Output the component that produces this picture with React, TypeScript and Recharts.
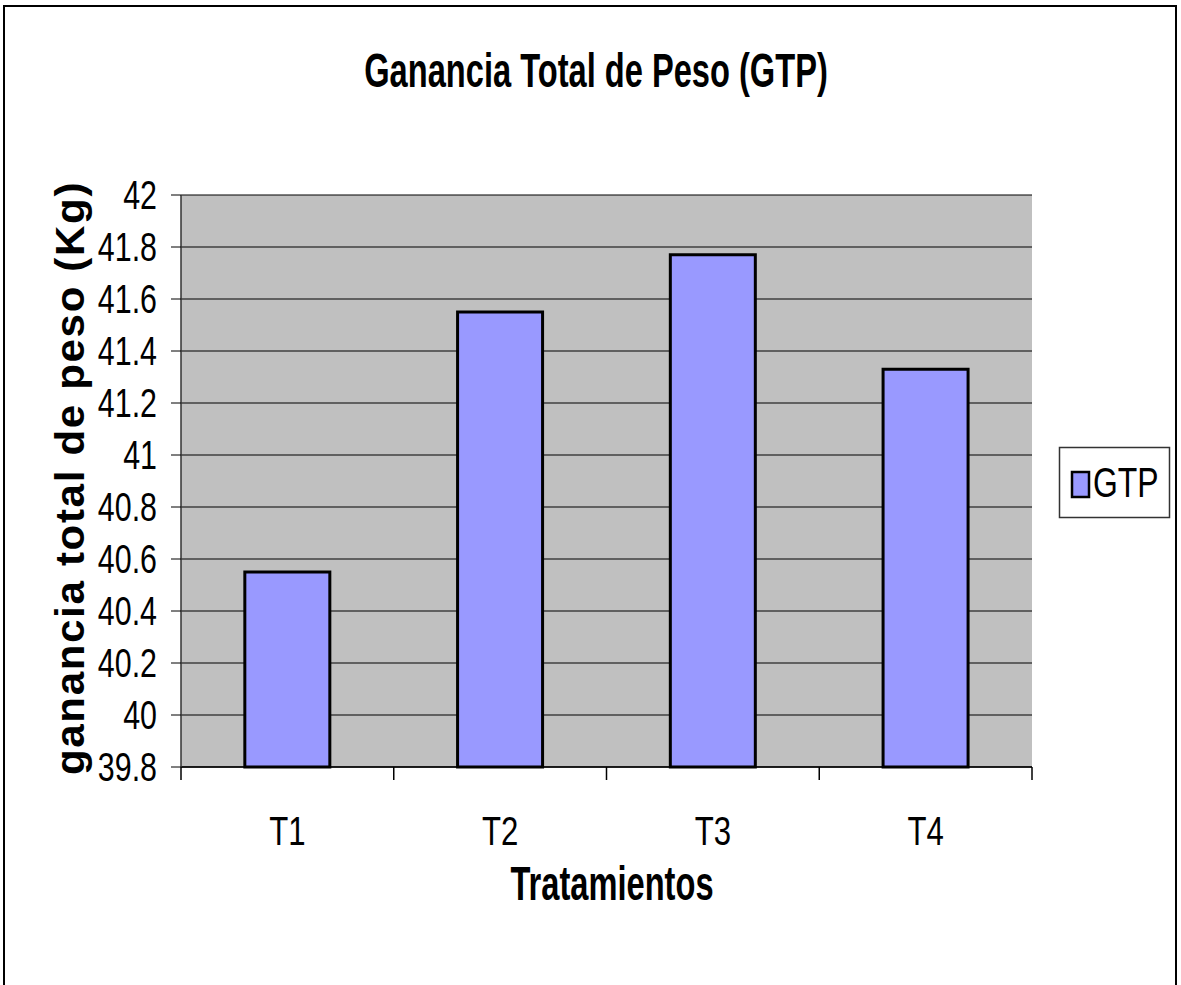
import { BarChart, Bar, XAxis, YAxis, CartesianGrid } from 'recharts';

const categories = ['T1', 'T2', 'T3', 'T4'];
const gtpValues = [40.55, 41.55, 41.77, 41.33];
const yTicks = [39.8, 40, 40.2, 40.4, 40.6, 40.8, 41, 41.2, 41.4, 41.6, 41.8, 42];
const seriesName = 'GTP';

const data = categories.map((name, i) => ({ name, GTP: gtpValues[i] }));

const W = 1181;
const H = 985;
const PLOT_LEFT = 181;
const PLOT_RIGHT = 1032;
const PLOT_TOP = 195;
const PLOT_BOTTOM = 767;
const Y_AXIS_W = 80;
const X_AXIS_H = 60;
const BAND = (PLOT_RIGHT - PLOT_LEFT) / categories.length;

const FONT = "'Liberation Sans', Arial, sans-serif";
const SQUEEZE = 0.76; // the old Excel picture is squashed sideways
const BOLD_SQUEEZE = 0.68;

// text squeezed horizontally, like the source picture
function NarrowText({ x, y, anchor = 'start', size, bold = false, squeeze = SQUEEZE, children }: any) {
  return (
    <text
      transform={`translate(${x} ${y}) scale(${squeeze} 1)`}
      textAnchor={anchor}
      fontFamily={FONT}
      fontSize={size}
      fontWeight={bold ? 'bold' : 'normal'}
      fill="#000"
    >
      {children}
    </text>
  );
}

function YTick(props: any) {
  const { x, y, payload } = props;
  return (
    <NarrowText x={x} y={y + 14} anchor="end" size={40}>
      {String(+Number(payload.value).toFixed(1))}
    </NarrowText>
  );
}

function XTick(props: any) {
  const { x, payload, index } = props;
  const axisY = PLOT_BOTTOM;
  return (
    <g>
      <line x1={x - BAND / 2} x2={x - BAND / 2} y1={axisY} y2={axisY + 13} stroke="#000" strokeWidth={1.5} />
      {index === categories.length - 1 && (
        <line x1={x + BAND / 2} x2={x + BAND / 2} y1={axisY} y2={axisY + 13} stroke="#000" strokeWidth={1.5} />
      )}
      <NarrowText x={x} y={845} anchor="middle" size={41}>
        {payload.value}
      </NarrowText>
    </g>
  );
}

export default function App() {
  return (
    <div style={{ position: 'absolute', left: 0, top: 0, width: W, height: H, background: '#fff', overflow: 'hidden' }}>
      <div
        style={{
          position: 'absolute',
          left: 3,
          top: 5,
          width: 1170,
          height: 1100,
          border: '2.5px solid #000',
        }}
      />
      <div style={{ position: 'absolute', left: 0, top: 0 }}>
        <BarChart
          width={W}
          height={H}
          data={data}
          barCategoryGap="30%"
          margin={{
            top: PLOT_TOP,
            right: W - PLOT_RIGHT,
            bottom: H - PLOT_BOTTOM - X_AXIS_H,
            left: PLOT_LEFT - Y_AXIS_W,
          }}
        >
          <CartesianGrid vertical={false} stroke="#000" strokeWidth={1.2} fill="#C0C0C0" />
          <XAxis
            dataKey="name"
            height={X_AXIS_H}
            tickLine={false}
            axisLine={{ stroke: '#000', strokeWidth: 1.5 }}
            tick={<XTick />}
            interval={0}
          />
          <YAxis
            width={Y_AXIS_W}
            domain={[39.8, 42]}
            ticks={yTicks}
            interval={0}
            tickSize={10}
            tickMargin={14}
            tickLine={{ stroke: '#000' }}
            axisLine={{ stroke: '#333', strokeWidth: 1.5 }}
            tick={<YTick />}
          />
          <YAxis
            yAxisId="r"
            orientation="right"
            width={0}
            domain={[39.8, 42]}
            tick={false}
            tickLine={false}
            axisLine={{ stroke: '#808080', strokeWidth: 2.5 }}
          />
          <Bar dataKey="GTP" name={seriesName} fill="#9999FF" stroke="#000" strokeWidth={3} isAnimationActive={false} />
        </BarChart>
      </div>
      <svg width={W} height={H} style={{ position: 'absolute', left: 0, top: 0, pointerEvents: 'none' }}>
        <NarrowText x={596} y={87} anchor="middle" size={48} bold squeeze={BOLD_SQUEEZE}>
          Ganancia Total de Peso (GTP)
        </NarrowText>
        <NarrowText x={612} y={900} anchor="middle" size={48} bold squeeze={BOLD_SQUEEZE}>
          Tratamientos
        </NarrowText>
        <text
          transform="translate(84 478) rotate(-90) scale(1 0.95)"
          textAnchor="middle"
          fontFamily={FONT}
          fontWeight="bold"
          fontSize={42}
          letterSpacing={1.7}
          fill="#000"
        >
          ganancia total de peso (Kg)
        </text>
        {/* legend */}
        <rect x={1059.5} y={447.5} width={110} height={70} fill="#fff" stroke="#333" strokeWidth={1.5} />
        <rect x={1072} y={472} width={17} height={25} fill="#9999FF" stroke="#000" strokeWidth={2.5} />
        <NarrowText x={1093} y={497} size={42}>
          {seriesName}
        </NarrowText>
      </svg>
    </div>
  );
}
